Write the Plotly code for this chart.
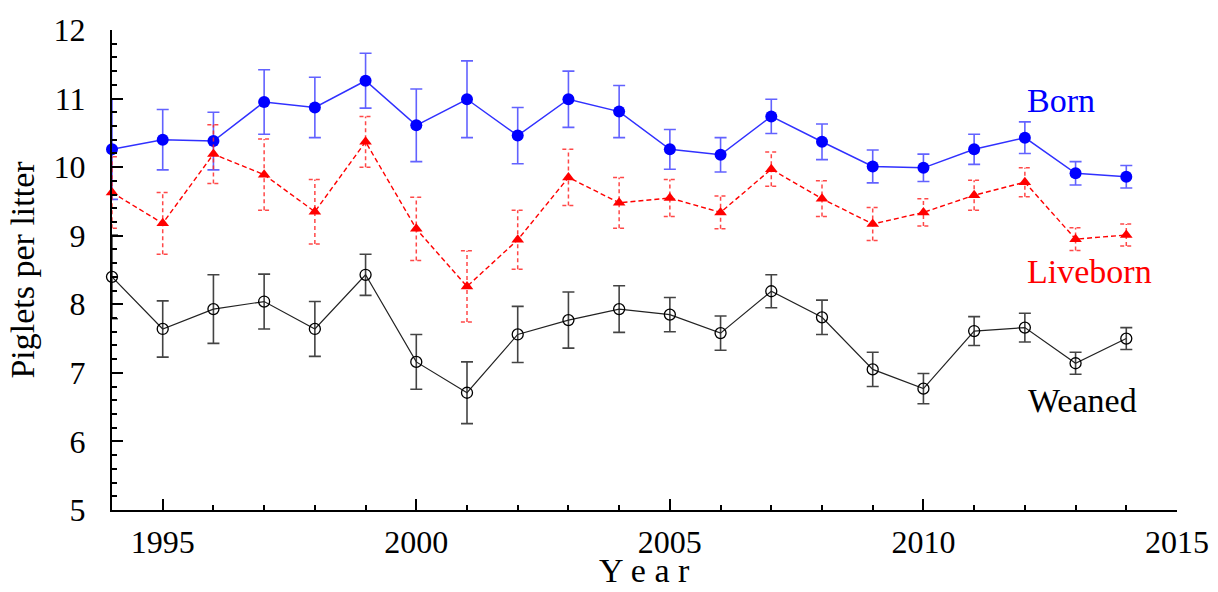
import plotly.graph_objects as go

years = list(range(1994, 2015))

born = [10.26, 10.40, 10.38, 10.95, 10.87, 11.26, 10.61, 10.99, 10.46, 10.99, 10.81,
        10.26, 10.18, 10.74, 10.37, 10.01, 9.99, 10.26, 10.43, 9.91, 9.86]
born_err = [0.73, 0.44, 0.42, 0.47, 0.44, 0.40, 0.53, 0.56, 0.41, 0.41, 0.38,
            0.29, 0.25, 0.25, 0.26, 0.24, 0.20, 0.22, 0.23, 0.17, 0.165]

liveborn = [9.63, 9.18, 10.19, 9.89, 9.35, 10.37, 9.10, 8.26, 8.94, 9.85, 9.48,
            9.55, 9.34, 9.97, 9.54, 9.17, 9.34, 9.59, 9.78, 8.95, 9.01]
live_err = [0.52, 0.45, 0.43, 0.52, 0.47, 0.37, 0.46, 0.52, 0.43, 0.41, 0.37,
            0.27, 0.24, 0.25, 0.26, 0.24, 0.20, 0.22, 0.21, 0.165, 0.16]

weaned = [8.40, 7.64, 7.93, 8.04, 7.64, 8.43, 7.16, 6.71, 7.56, 7.77, 7.93,
          7.85, 7.58, 8.19, 7.81, 7.05, 6.77, 7.61, 7.66, 7.14, 7.50]
weaned_err = [0.61, 0.41, 0.50, 0.40, 0.40, 0.30, 0.40, 0.45, 0.41, 0.41, 0.34,
              0.25, 0.25, 0.24, 0.25, 0.25, 0.22, 0.21, 0.21, 0.16, 0.16]

series_labels = ["Born", "Liveborn", "Weaned"]
x_title = "Y e a r"
y_title = "Piglets per litter"

FONT = "Liberation Serif, Times New Roman, serif"
CAP = 0.12  # half-width of dashed error-bar caps, in years

# dashed error bars for Liveborn built from the data
ex, ey = [], []
for x, y, e in zip(years, liveborn, live_err):
    ex += [x, x, None, x - CAP, x + CAP, None, x - CAP, x + CAP, None]
    ey += [y - e, y + e, None, y + e, y + e, None, y - e, y - e, None]

fig = go.Figure()

fig.add_trace(go.Scatter(
    x=years, y=born, mode="lines+markers", name="Born",
    line=dict(color="#3030ff", width=1.5),
    marker=dict(symbol="circle", size=12, color="#0000ff"),
    error_y=dict(type="data", array=born_err, visible=True,
                 color="rgba(70,70,255,0.85)", thickness=1.6, width=6),
    cliponaxis=False,
))

fig.add_trace(go.Scatter(
    x=ex, y=ey, mode="lines", name="Liveborn SE",
    line=dict(color="rgba(255,40,40,0.85)", width=1.5, dash="4px,3px"),
    connectgaps=False, cliponaxis=False, hoverinfo="skip",
))
fig.add_trace(go.Scatter(
    x=years, y=liveborn, mode="lines+markers", name="Liveborn",
    line=dict(color="#ff0000", width=1.4, dash="5px,3px"),
    marker=dict(symbol="triangle-up", size=11, color="#ff0000"),
    cliponaxis=False,
))

fig.add_trace(go.Scatter(
    x=years, y=weaned, mode="lines+markers", name="Weaned",
    line=dict(color="#222222", width=1.2),
    marker=dict(symbol="circle-open", size=11, color="#000000", line=dict(width=1.3)),
    error_y=dict(type="data", array=weaned_err, visible=True,
                 color="#444444", thickness=1.6, width=6),
    cliponaxis=False,
))

fig.add_annotation(x=2012.0, y=10.976, text=series_labels[0], showarrow=False,
                   xanchor="left", yanchor="middle",
                   font=dict(family=FONT, size=34, color="#0000ff"))
fig.add_annotation(x=2012.0, y=8.474, text=series_labels[1], showarrow=False,
                   xanchor="left", yanchor="middle",
                   font=dict(family=FONT, size=34, color="#ff0000"))
fig.add_annotation(x=2012.02, y=6.60, text=series_labels[2], showarrow=False,
                   xanchor="left", yanchor="middle",
                   font=dict(family=FONT, size=34, color="#000000"))

# x-axis title placed as paper-anchored text at the bottom of the figure
fig.add_annotation(x=0.5, y=-0.168, xref="paper", yref="paper", text=x_title,
                   showarrow=False, xanchor="center", yanchor="bottom",
                   font=dict(family=FONT, size=34, color="#000000"))

fig.update_layout(
    width=1218, height=592,
    margin=dict(l=112, r=41, t=30, b=82),
    paper_bgcolor="white", plot_bgcolor="white",
    showlegend=False,
    font=dict(family=FONT, size=32, color="black"),
)

fig.update_xaxes(
    range=[1994, 2015], showgrid=False, zeroline=False, automargin=False,
    showline=True, linecolor="black", linewidth=2,
    tickmode="linear", tick0=1995, dtick=5,
    ticks="inside", ticklen=11, tickwidth=1.6, tickcolor="black",
    minor=dict(ticks="inside", ticklen=5, tickwidth=1.6, tickcolor="black",
               tickmode="linear", tick0=1994, dtick=1, showgrid=False),
    tickfont=dict(family=FONT, size=32),
    ticklabelstandoff=3,
)
fig.update_yaxes(
    range=[5, 12], showgrid=False, zeroline=False, automargin=False,
    showline=True, linecolor="black", linewidth=2,
    tickmode="linear", tick0=5, dtick=1,
    ticks="inside", ticklen=11, tickwidth=1.6, tickcolor="black",
    minor=dict(ticks="inside", ticklen=5, tickwidth=1.6, tickcolor="black",
               tickmode="linear", tick0=5, dtick=0.2, showgrid=False),
    tickfont=dict(family=FONT, size=32),
    ticklabelstandoff=18,
    title=dict(text=y_title, font=dict(family=FONT, size=34), standoff=9),
)

fig.write_html("out.html")
